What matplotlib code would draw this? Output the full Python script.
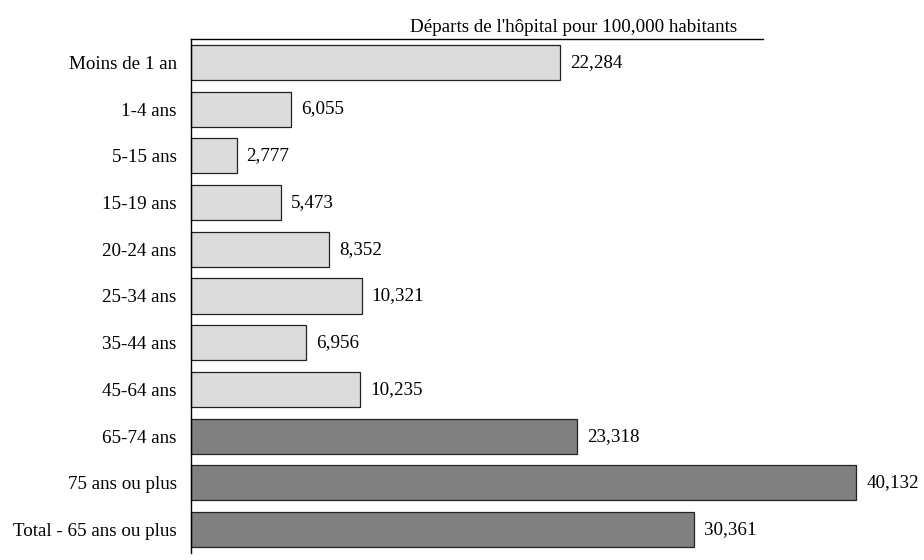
import matplotlib
matplotlib.use("Agg")
import matplotlib.pyplot as plt

plt.rcParams['font.family'] = ['Liberation Serif', 'DejaVu Serif']

# age groups, top to bottom
groups = ['Moins de 1 an', '1-4 ans', '5-15 ans', '15-19 ans', '20-24 ans',
          '25-34 ans', '35-44 ans', '45-64 ans', '65-74 ans', '75 ans ou plus',
          'Total - 65 ans ou plus']
rates = [22284, 6055, 2777, 5473, 8352, 10321, 6956, 10235, 23318, 40132, 30361]
senior = [False] * 8 + [True] * 3

light = '#dcdcdc'
dark = '#808080'
fs = 13.7

fig = plt.figure(figsize=(9.24, 5.6), dpi=100)
ax = fig.add_axes([0.2062, 0.0125, 0.6196, 0.9179])

ypos = list(range(len(groups)))
colors = [dark if s else light for s in senior]
ax.barh(ypos, rates, height=0.75, color=colors, edgecolor='#222222',
        linewidth=0.9, clip_on=False)

for y, v in zip(ypos, rates):
    ax.annotate(f'{v:,}', (v, y), xytext=(7, 0), textcoords='offset points',
                va='center', ha='left', fontsize=fs, annotation_clip=False)

ax.set_xlim(0, 34500)
ax.set_ylim(len(groups) - 0.5, -0.5)
ax.set_yticks(ypos)
ax.set_yticklabels(groups, fontsize=fs)
ax.tick_params(axis='y', length=0, pad=10)
ax.set_xticks([])

for side in ['right', 'bottom']:
    ax.spines[side].set_visible(False)
ax.spines['left'].set_linewidth(1.0)
ax.spines['top'].set_linewidth(1.0)

ax.text(0.67, 1.005, "Départs de l'hôpital pour 100,000 habitants",
        transform=ax.transAxes, ha='center', va='bottom', fontsize=fs)

fig.savefig('out.png', dpi=100)
